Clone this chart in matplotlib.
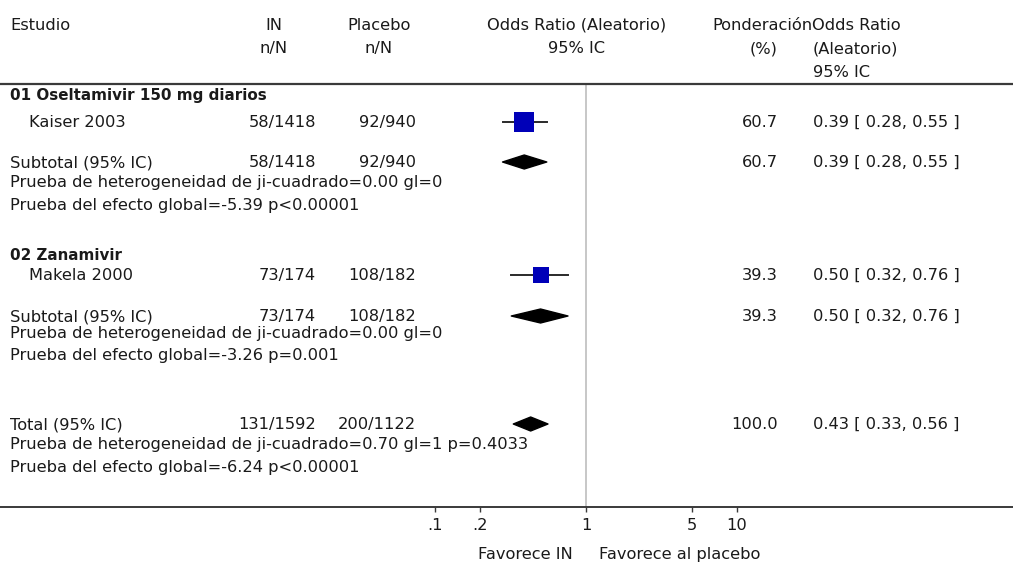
import matplotlib
matplotlib.use("Agg")
import numpy as np
import matplotlib.pyplot as plt
from matplotlib.patches import Polygon
from matplotlib.transforms import blended_transform_factory

plt.rcParams['font.family'] = ['DejaVu Sans']

# ---- data -----------------------------------------------------------------
groups = ["01 Oseltamivir 150 mg diarios", "02 Zanamivir"]

studies = ["Kaiser 2003", "Makela 2000"]
study_in_n = [58, 73]
study_in_N = [1418, 174]
study_pl_n = [92, 108]
study_pl_N = [940, 182]
study_or = [0.39, 0.50]
study_lo = [0.28, 0.32]
study_hi = [0.55, 0.76]
study_w = [60.7, 39.3]

pooled_labels = ["Subtotal (95% IC)", "Subtotal (95% IC)", "Total (95% IC)"]
pooled_in_n = [58, 73, 131]
pooled_in_N = [1418, 174, 1592]
pooled_pl_n = [92, 108, 200]
pooled_pl_N = [940, 182, 1122]
pooled_or = [0.39, 0.50, 0.43]
pooled_lo = [0.28, 0.32, 0.33]
pooled_hi = [0.55, 0.76, 0.56]
pooled_w = [60.7, 39.3, 100.0]
chi2 = [0.00, 0.00, 0.70]
chi2_df = [0, 0, 1]
chi2_p = [None, None, "0.4033"]
z_stat = [-5.39, -3.26, -6.24]
z_p = ["<0.00001", "=0.001", "<0.00001"]

tick_vals = [0.1, 0.2, 1, 5, 10]
tick_labels = [".1", ".2", "1", "5", "10"]

# ---- layout (pixel rows, top-down) ---------------------------------------
W, H = 1013, 562
FS = 11.7
TXT = "#1a1a1a"
LINE = "#3a3a3a"

hdr_y = [30, 53, 77]
group_y = [100, 260]
study_y = [127, 280]
pooled_y = [167, 321, 429]
het_y = [187, 338, 449]
eff_y = [210, 360, 472]
rule_y = 84
axis_y = 507

one_px, decade_px = 586, 151  # position of OR = 1, pixels per decade

fig = plt.figure(figsize=(W / 100, H / 100), dpi=100)
ax = fig.add_axes([0, 0, 1, 1])
ax.set_xscale("log")
ax.set_xlim(10 ** ((0 - one_px) / decade_px), 10 ** ((W - one_px) / decade_px))
ax.set_ylim(H, 0)

for s in ("left", "right", "top"):
    ax.spines[s].set_visible(False)
ax.spines["bottom"].set_position(("data", axis_y))
ax.spines["bottom"].set_color(LINE)
ax.spines["bottom"].set_linewidth(1.4)
ax.set_yticks([])
ax.xaxis.set_minor_locator(matplotlib.ticker.NullLocator())
ax.set_xticks(tick_vals)
ax.set_xticklabels(tick_labels)
ax.tick_params(axis="x", direction="out", length=3.5, width=1, color=LINE,
               labelsize=FS, labelcolor=TXT, pad=4.5)

col = blended_transform_factory(ax.transAxes, ax.transData)


def txt(px, y, s, ha="left", size=FS, **kw):
    ax.text(px / W, y, s, transform=col, ha=ha, va="baseline",
            fontsize=size, color=TXT, **kw)


# header
txt(10, hdr_y[0], "Estudio")
txt(274, hdr_y[0], "IN", ha="center")
txt(274, hdr_y[1], "n/N", ha="center")
txt(379, hdr_y[0], "Placebo", ha="center")
txt(379, hdr_y[1], "n/N", ha="center")
txt(577, hdr_y[0], "Odds Ratio (Aleatorio)", ha="center")
txt(577, hdr_y[1], "95% IC", ha="center")
txt(812, hdr_y[0], "Ponderación", ha="right")
txt(777, hdr_y[1], "(%)", ha="right")
txt(812, hdr_y[0], "Odds Ratio")
txt(813, hdr_y[1], "(Aleatorio)")
txt(813, hdr_y[2], "95% IC")

ax.axhline(rule_y, color=LINE, lw=1.6)
ax.plot([1, 1], [rule_y, axis_y], color="#b8b8b8", lw=1.1, zorder=1)

# studies
for g, name in enumerate(groups):
    txt(10, group_y[g], name, size=10.9, fontweight="bold")

for i, name in enumerate(studies):
    y = study_y[i]
    yc = y - 5
    txt(29, y, name)
    txt(316, y, f"{study_in_n[i]}/{study_in_N[i]}", ha="right")
    txt(416, y, f"{study_pl_n[i]}/{study_pl_N[i]}", ha="right")
    txt(778, y, f"{study_w[i]:.1f}", ha="right")
    txt(813, y, f"{study_or[i]:.2f} [ {study_lo[i]:.2f}, {study_hi[i]:.2f} ]")
    ax.plot([study_lo[i], study_hi[i]], [yc, yc], color="#2a2a2a", lw=1.4, zorder=2)
    side_pt = 2.6 * np.sqrt(study_w[i]) * 0.72
    ax.scatter([study_or[i]], [yc], s=side_pt ** 2, marker="s",
               color="#0000b8", linewidths=0, zorder=3)

# pooled rows
for k in range(3):
    y = pooled_y[k]
    yc = y - 5
    txt(10, y, pooled_labels[k])
    txt(316, y, f"{pooled_in_n[k]}/{pooled_in_N[k]}", ha="right")
    txt(416, y, f"{pooled_pl_n[k]}/{pooled_pl_N[k]}", ha="right")
    txt(778, y, f"{pooled_w[k]:.1f}", ha="right")
    txt(813, y, f"{pooled_or[k]:.2f} [ {pooled_lo[k]:.2f}, {pooled_hi[k]:.2f} ]")
    half = 7
    ax.add_patch(Polygon([(pooled_lo[k], yc), (pooled_or[k], yc - half),
                          (pooled_hi[k], yc), (pooled_or[k], yc + half)],
                         closed=True, facecolor="black", edgecolor="black",
                         lw=1.0, joinstyle="round", zorder=3))
    het = f"Prueba de heterogeneidad de ji-cuadrado={chi2[k]:.2f} gl={chi2_df[k]}"
    if chi2_p[k] is not None:
        het += f" p={chi2_p[k]}"
    txt(10, het_y[k], het)
    txt(10, eff_y[k], f"Prueba del efecto global={z_stat[k]:.2f} p{z_p[k]}")

# direction labels under the axis
ax.text(0.82, 559, "Favorece IN", ha="right", va="baseline", fontsize=FS, color=TXT)
ax.text(1.22, 559, "Favorece al placebo", ha="left", va="baseline", fontsize=FS, color=TXT)

fig.savefig("out.png", dpi=100, facecolor="white")
